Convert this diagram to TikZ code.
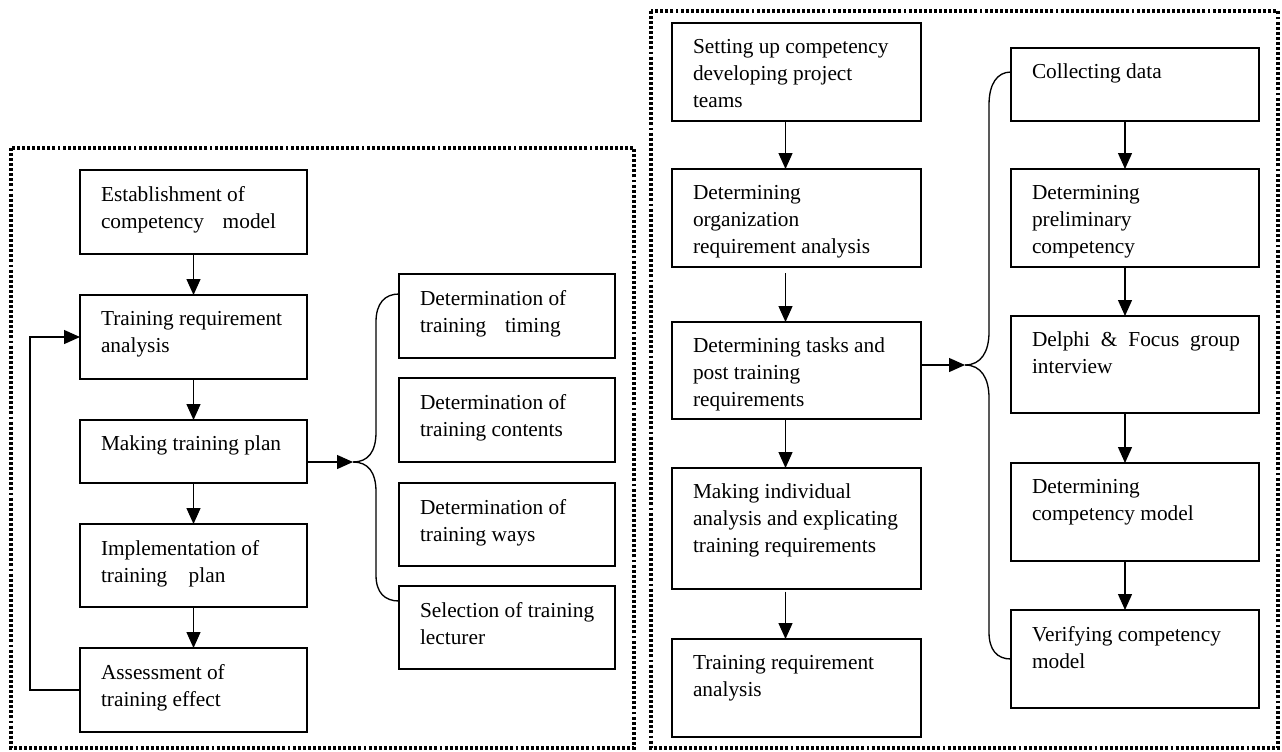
\documentclass[tikz,border=0pt]{standalone}
\usepackage{fontspec}
\setmainfont{Liberation Serif}
\usetikzlibrary{arrows.meta,calc}
\newcommand\bx[6]{%
  \node[box, minimum width={(#4-#2)*0.75pt}, minimum height={(#5-#3)*0.75pt}] (#1) at ({(#2+#4)/2},{(#3+#5)/2}) {};
  \node[txt] (#1t) at ($(#1.north west)+(21,16)$) {#6};}
\begin{document}
\begin{tikzpicture}[x=0.75pt,y=-0.75pt,
  box/.style={draw, line width=1.2pt, inner sep=0pt, outer sep=0pt, rectangle},
  txt/.style={anchor=north west, inner sep=0pt, outer sep=0pt, align=left, font=\fontsize{16}{20.25}\selectfont},
  arr/.style={line width=1pt, -{Triangle[length=12pt,width=10.5pt]}},
  conn/.style={line width=1pt},
  frame/.style={line width=2.3pt, dash pattern=on 2.2pt off 1.6pt}]
\useasboundingbox (0,0) rectangle (1282,751);
% frames
\draw[frame] (11,148) rectangle (634,748);
\draw[frame] (651,11) rectangle (1278,748);
% left column
\bx{L1}{80}{170}{307}{254}{Establishment of\\competency\hspace{14pt}model}
\bx{L2}{80}{295}{307}{379}{Training requirement\\analysis}
\bx{L3}{80}{420}{307}{483}{Making training plan}
\bx{L4}{80}{524}{307}{607}{Implementation of\\training\hspace{16pt}plan}
\bx{L5}{80}{648}{307}{732}{Assessment of\\training effect}
\bx{T1}{399}{274}{615}{358}{Determination of\\training\hspace{14pt}timing}
\bx{T2}{399}{378}{615}{462}{Determination of\\training contents}
\bx{T3}{399}{483}{615}{566}{Determination of\\training ways}
\bx{T4}{399}{586}{615}{669}{Selection of training\\lecturer}
% right part
\bx{A}{672}{23}{921}{121}{Setting up competency\\developing project\\teams}
\bx{B}{672}{169}{921}{267}{Determining\\organization\\requirement analysis}
\bx{C}{672}{322}{921}{419}{Determining tasks and\\post training\\requirements}
\bx{D}{672}{468}{921}{589}{Making individual\\analysis and explicating\\training requirements}
\bx{E}{672}{639}{921}{737}{Training requirement\\analysis}
\bx{R1}{1011}{48}{1259}{121}{Collecting data}
\bx{R2}{1011}{169}{1259}{267}{Determining\\preliminary\\competency}
\bx{R3}{1011}{316}{1259}{413}{\makebox[156pt][s]{Delphi \& Focus group}\\interview}
\bx{R4}{1011}{463}{1259}{561}{Determining\\competency model}
\bx{R5}{1011}{610}{1259}{708}{Verifying competency\\model}
% left arrows
\draw[arr] (L1) -- (L2);
\draw[arr] (L2) -- (L3);
\draw[arr] (L3) -- (L4);
\draw[arr] (L4) -- (L5);
\draw[arr] (L5.west) -- ++(-50,0) |- (L2.west);
% left brace
\coordinate (lt) at (353,462);
\draw[arr] (L3.east |- lt) -- (lt);
\draw[conn] (lt) .. controls (368,462) and (376,452) .. (376,432) -- (376,322)
  .. controls (376,303) and (385,294) .. ($(T1.north west)+(0,20)$);
\draw[conn] (lt) .. controls (368,462) and (376,472) .. (376,492) -- (376,575)
  .. controls (376,593) and (385,601) .. ($(T4.north west)+(0,15)$);
% right arrows
\draw[arr] ($(A.south)+(-11,0)$) -- ($(B.north)+(-11,0)$);
\draw[arr, shorten <=4.5pt] ($(B.south)+(-11,0)$) -- ($(C.north)+(-11,0)$);
\draw[arr] ($(C.south)+(-11,0)$) -- ($(D.north)+(-11,0)$);
\draw[arr, shorten <=2pt] ($(D.south)+(-11,0)$) -- ($(E.north)+(-11,0)$);
\draw[arr] ($(R1.south)+(-10,0)$) -- ($(R2.north)+(-10,0)$);
\draw[arr] ($(R2.south)+(-10,0)$) -- ($(R3.north)+(-10,0)$);
\draw[arr] ($(R3.south)+(-10,0)$) -- ($(R4.north)+(-10,0)$);
\draw[arr] ($(R4.south)+(-10,0)$) -- ($(R5.north)+(-10,0)$);
% right brace
\coordinate (rt) at (965,365);
\draw[arr] (C.east |- rt) -- (rt);
\draw[conn] (rt) .. controls (981,365) and (989,352) .. (989,332) -- (989,105)
  .. controls (989,84) and (997,72) .. ($(R1.north west)+(0,24)$);
\draw[conn] (rt) .. controls (981,365) and (989,378) .. (989,398) -- (989,632)
  .. controls (989,650) and (997,659) .. (R5.west);
\end{tikzpicture}
\end{document}
